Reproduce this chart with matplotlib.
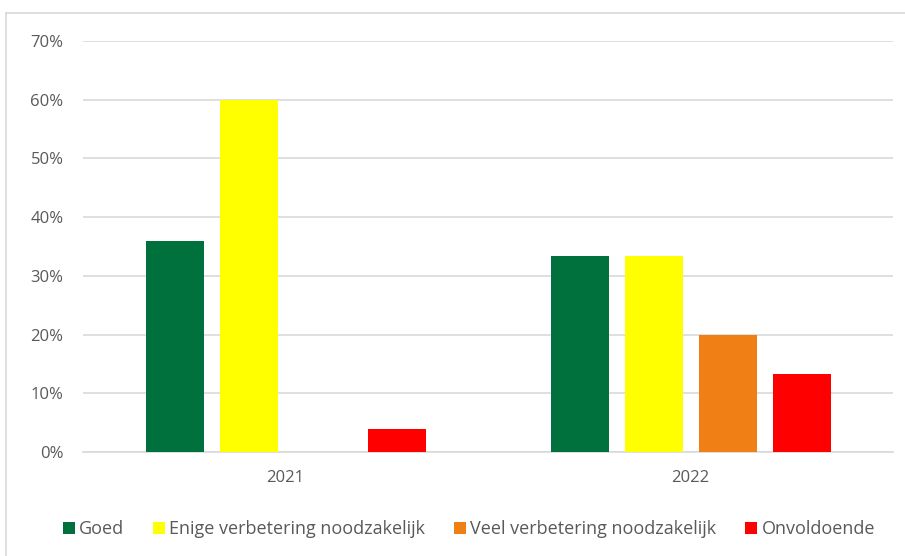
import matplotlib
matplotlib.use("Agg")
import matplotlib.pyplot as plt
from matplotlib.lines import Line2D
import numpy as np

plt.rcParams['font.family'] = ['Open Sans', 'DejaVu Sans']

categories = ["2021", "2022"]
series_names = ["Goed", "Enige verbetering noodzakelijk", "Veel verbetering noodzakelijk", "Onvoldoende"]
goed = [0.36, 0.333]
enige = [0.60, 0.333]
veel = [0.0, 0.20]
onvoldoende = [0.04, 0.133]
colors = ["#00703C", "#FFFF00", "#F08016", "#FF0000"]
yticks = [0, 0.1, 0.2, 0.3, 0.4, 0.5, 0.6, 0.7]
ytick_labels = ["0%", "10%", "20%", "30%", "40%", "50%", "60%", "70%"]

W, H = 905, 556
fig = plt.figure(figsize=(W / 100, H / 100), dpi=100)
ax = fig.add_axes([83 / W, 1 - 452 / H, (893 - 83) / W, (452 - 41) / H])

x = np.arange(len(categories))
pitch = 74 / 405
width = 58 / 405
text_color = "#595959"
for i, (vals, name, c) in enumerate(zip([goed, enige, veel, onvoldoende], series_names, colors)):
    ax.bar(x + (i - 1.5) * pitch, vals, width=width, color=c, label=name, zorder=3)

ax.set_xlim(-0.5, 1.5)
ax.set_ylim(0, 0.7)
ax.set_yticks(yticks)
ax.set_yticklabels(ytick_labels, color=text_color, fontsize=12)
ax.set_xticks(x)
ax.set_xticklabels(categories, color=text_color, fontsize=12)
ax.tick_params(axis='y', length=0, pad=14)
ax.tick_params(axis='x', length=0, pad=13)
ax.grid(axis='y', color="#D9D9D9", linewidth=1.2, zorder=0)
for s in ["top", "right", "left"]:
    ax.spines[s].set_visible(False)
ax.spines["bottom"].set_color("#D9D9D9")
ax.spines["bottom"].set_linewidth(1.2)

leg = fig.legend(loc="center", bbox_to_anchor=(469 / W, 1 - 529 / H), ncol=4, frameon=False,
                 fontsize=13, handlelength=0.65, handleheight=0.65, handletextpad=0.25,
                 columnspacing=1.6, labelcolor=text_color)

# chart border (left and top visible)
fig.add_artist(Line2D([5.5 / W, 5.5 / W], [0, 1 - 13 / H], transform=fig.transFigure, color="#D9D9D9", lw=1.2))
fig.add_artist(Line2D([5.5 / W, 1], [1 - 13 / H, 1 - 13 / H], transform=fig.transFigure, color="#D9D9D9", lw=1.2))

fig.savefig("out.png", dpi=100)
